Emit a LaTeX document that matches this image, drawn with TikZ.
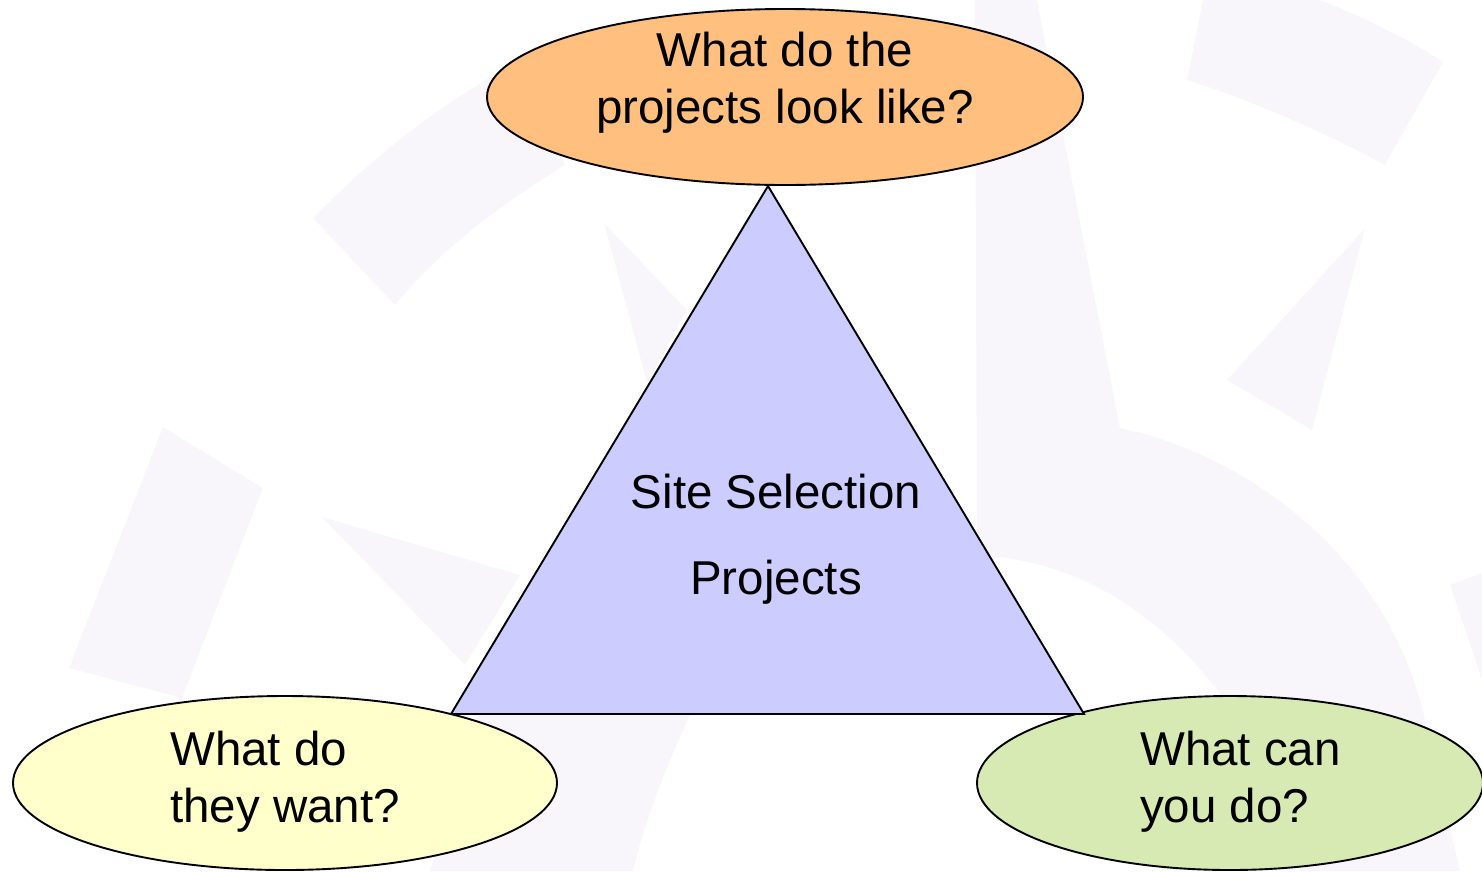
\documentclass[tikz,border=0pt]{standalone}
\usepackage{fontspec}
\setmainfont{Liberation Sans}
\usetikzlibrary{shapes.geometric}

\definecolor{lookfill}{HTML}{FFBF7F}
\definecolor{wantfill}{HTML}{FFFFCC}
\definecolor{canfill}{HTML}{D8EAB3}
\definecolor{sitefill}{HTML}{CCCCFF}
\definecolor{wmark}{HTML}{F9F6FB}

\begin{document}
\begin{tikzpicture}
[x=1pt,y=-1pt,
 bubble/.style={draw,ellipse,line width=1.9pt,inner sep=0pt},
 qtext/.style={font=\fontsize{47.5}{57}\selectfont,inner sep=0pt},
 wm/.style={fill=wmark,draw=none},]

\useasboundingbox (0,0) rectangle (1482,871);

%Faint background marks
\fill[wm] (313,218) .. controls (380,150) and (440,105) .. (520,60) -- (565,165) .. controls (500,205) and (440,250) .. (395,305) -- cycle;
\fill[wm] (163,427) -- (263,488) -- (182,698) -- (69,668) -- cycle;
\fill[wm] (322,517) -- (520,575) -- (465,665) -- cycle;
\fill[wm] (604,223) -- (687,310) -- (647,383) -- cycle;
\fill[wm] (975,0) -- (1037,0) -- (1120,428) .. controls (1250,455) and (1390,560) .. (1425,720) -- (1460,871) -- (1300,871) .. controls (1280,760) and (1180,580) .. (1000,557) -- (977,557) -- cycle;
\fill[wm] (1203,0) -- (1320,0) .. controls (1370,20) and (1410,40) .. (1443,62) -- (1385,165) .. controls (1320,130) and (1250,100) .. (1187,80) -- cycle;
\fill[wm] (1365,228) -- (1312,430) -- (1227,380) -- cycle;
\fill[wm] (1450,585) -- (1482,573) -- (1482,680) -- cycle;
\fill[wm] (480,715) -- (690,715) .. controls (665,770) and (645,820) .. (633,871) -- (430,871) -- cycle;

%Ellipses
\node (look) at (785,97) [bubble,fill=lookfill,minimum width=596pt,minimum height=176pt] {};
\node (want) at (285,783) [bubble,fill=wantfill,minimum width=544pt,minimum height=174pt] {};
\node (can) at (1230,783) [bubble,fill=canfill,minimum width=506pt,minimum height=174pt] {};

%Triangle
\coordinate (apex) at (768,186);
\coordinate (left) at (451,714);
\coordinate (right) at (1084,714);
\draw[line width=1.9pt,fill=sitefill,line join=miter] (apex) -- (left) -- (right) -- cycle;

%Labels (base = last line)
\node[qtext,align=center,anchor=base] (looktext) at (785,123) {What do the\\projects look like?};
\node[qtext,align=left,anchor=base west] (wanttext) at (170,822) {What do\\they want?};
\node[qtext,align=left,anchor=base west] (cantext) at (1140,822) {What can\\you do?};
\node[font=\fontsize{47.5}{86}\selectfont,inner sep=0pt,align=center,anchor=base] (site) at (776,594) {Site Selection\\Projects};
\end{tikzpicture}
\end{document}
